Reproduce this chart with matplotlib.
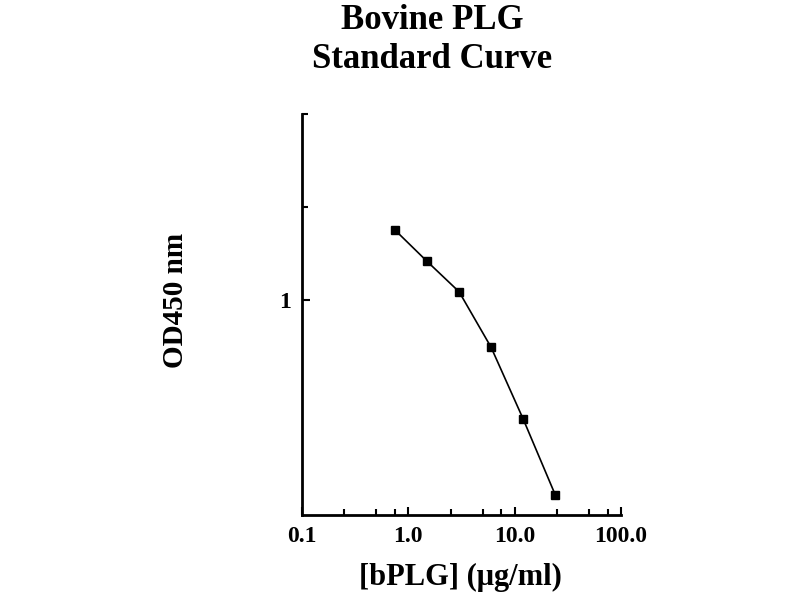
import matplotlib
matplotlib.use("Agg")
import matplotlib.pyplot as plt
from matplotlib.ticker import FixedLocator, NullFormatter, FixedFormatter

conc = [0.75, 1.5, 3.0, 6.0, 12.0, 24.0]
od = [1.68, 1.33, 1.06, 0.70, 0.41, 0.233]
xtick_vals = [0.1, 1.0, 10.0, 100.0]
xtick_labels = ["0.1", "1.0", "10.0", "100.0"]
ytick_vals = [1.0]
ytick_labels = ["1"]

plt.rcParams['font.family'] = ['Liberation Serif', 'DejaVu Serif']
plt.rcParams['font.weight'] = 'bold'

fig = plt.figure(figsize=(8, 6), dpi=100)
ax = fig.add_axes([0.3775, 0.1417, 0.3988, 0.6683])
ax.plot(conc, od, color='black', lw=1.2, marker='s', ms=6, mfc='black', mec='black')
ax.set_xscale('log')
ax.set_yscale('log')
ax.set_xlim(0.1, 100)
ax.set_ylim(0.2, 4)

for s in ['top', 'right']:
    ax.spines[s].set_visible(False)
for s in ['left', 'bottom']:
    ax.spines[s].set_linewidth(2)

ax.xaxis.set_major_locator(FixedLocator(xtick_vals))
ax.xaxis.set_major_formatter(FixedFormatter(xtick_labels))
minors = [m * d for d in [0.1, 1, 10] for m in (2.5, 5, 7.5)]
ax.xaxis.set_minor_locator(FixedLocator(minors))
ax.xaxis.set_minor_formatter(NullFormatter())
ax.yaxis.set_major_locator(FixedLocator(ytick_vals))
ax.yaxis.set_major_formatter(FixedFormatter(ytick_labels))
ax.yaxis.set_minor_locator(FixedLocator([2.0, 4.0]))
ax.yaxis.set_minor_formatter(NullFormatter())

ax.tick_params(axis='both', which='major', direction='in', length=6, width=1.5,
               labelsize=17, pad=8)
ax.tick_params(axis='both', which='minor', direction='in', length=4, width=1.5)
for lab in ax.get_xticklabels() + ax.get_yticklabels():
    lab.set_fontweight('bold')

fig.text(0.54, 0.993, "Bovine PLG\nStandard Curve", ha='center', va='top',
         fontsize=25, fontweight='bold', linespacing=1.25)
fig.text(0.575, 0.037, "[bPLG] (\u03bcg/ml)", ha='center', va='center',
         fontsize=22, fontweight='bold')
fig.text(0.219, 0.5, "OD450 nm", ha='center', va='center', rotation=90,
         fontsize=21, fontweight='bold')

fig.savefig("out.png", dpi=100)
